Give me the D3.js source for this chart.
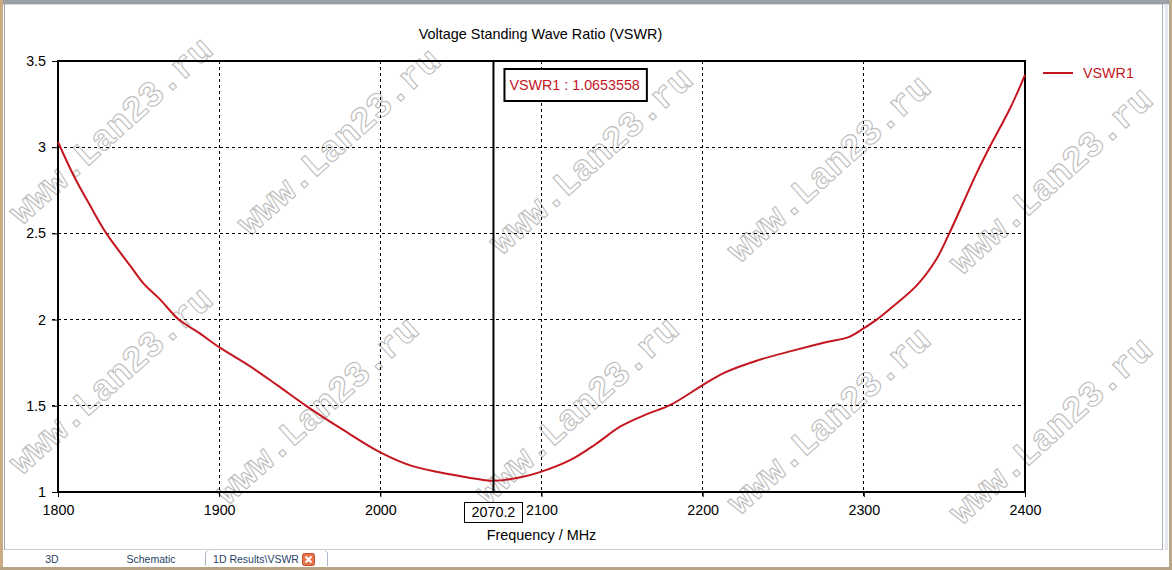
<!DOCTYPE html>
<html>
<head>
<meta charset="utf-8">
<script src="https://cdn.jsdelivr.net/npm/d3@7"></script>
<style>
html,body{margin:0;padding:0;background:#fff;}
svg{display:block;}
</style>
</head>
<body>
<svg id="chart" width="1172" height="570"></svg>
<script>
// ---- data ----
const freq = [1800,1810,1820,1830,1845,1853,1863,1875,1888,1900,1919,1936,1954,1977,2000,2020,2045,2064,2070,2087,2100,2118,2134,2149,2165,2180,2200,2213,2233,2256,2277,2291,2300,2308,2316,2333,2345,2353,2370,2378,2391,2400];
const vswr = [3.03,2.83,2.66,2.50,2.31,2.21,2.12,2.00,1.92,1.84,1.73,1.62,1.50,1.36,1.23,1.15,1.10,1.07,1.065,1.085,1.118,1.186,1.28,1.38,1.45,1.505,1.62,1.69,1.76,1.82,1.87,1.90,1.95,2.00,2.06,2.20,2.35,2.50,2.85,3.00,3.23,3.42];
const xTicks = [1800,1900,2000,2100,2200,2300,2400];
const yTicks = [1,1.5,2,2.5,3,3.5];
const seriesName = "VSWR1";
const markerFreq = 2070.2;
const markerValue = "1.0653558";
const title = "Voltage Standing Wave Ratio (VSWR)";
const xLabel = "Frequency / MHz";
const tabs = ["3D","Schematic","1D Results\\VSWR"];

// ---- layout ----
const svg = d3.select("#chart");
const W = 1172, H = 570;
const plot = {left:58, right:1025, top:61, bottom:492};
const x = d3.scaleLinear().domain([1800,2400]).range([plot.left, plot.right]);
const y = d3.scaleLinear().domain([1,3.5]).range([plot.bottom, plot.top]);
const font = "'Liberation Sans', Arial, sans-serif";
const red = "#c4161f";

// window frame
svg.append("rect").attr("x",0).attr("y",0).attr("width",W).attr("height",H).attr("fill","#fff");
svg.append("rect").attr("x",0).attr("y",0).attr("width",W).attr("height",4).attr("fill","#9ca1a7");
svg.append("rect").attr("x",0).attr("y",4).attr("width",W).attr("height",1).attr("fill","#d6d9dd");
svg.append("rect").attr("x",0).attr("y",0).attr("width",3).attr("height",H).attr("fill","#c9ab83");
svg.append("rect").attr("x",4).attr("y",4).attr("width",1).attr("height",546).attr("fill","#9aa0a6");
svg.append("rect").attr("x",1162).attr("y",4).attr("width",1).attr("height",546).attr("fill","#a8adb3");
svg.append("rect").attr("x",1165).attr("y",4).attr("width",3).attr("height",546).attr("fill","#e4e8ee");
svg.append("rect").attr("x",1169).attr("y",0).attr("width",3).attr("height",H).attr("fill","#b9a78a");

// watermarks (behind chart)
const wm = svg.append("g").attr("class","watermark");
const wmCenters = [[112,132],[340,143],[592,162],[830,170],[1052,182],
                   [112,382],[318,412],[578,412],[830,422],[1052,432]];
wmCenters.forEach(([cx,cy])=>{
  wm.append("text").attr("transform",`translate(${cx},${cy}) rotate(-42)`)
    .attr("text-anchor","middle").attr("dominant-baseline","middle")
    .attr("font-family","'Liberation Mono','DejaVu Sans Mono',monospace")
    .attr("font-weight","bold").attr("font-size",36)
    .attr("fill","none").attr("stroke","#bdbdbd").attr("stroke-width",1.1)
    .text("www.Lan23.ru");
});

// gridlines
const grid = svg.append("g");
grid.selectAll(".gx").data(xTicks.slice(1,-1)).join("line")
  .attr("x1",d=>x(d)).attr("x2",d=>x(d)).attr("y1",plot.top).attr("y2",plot.bottom+5)
  .attr("stroke","#000").attr("stroke-width",1).attr("stroke-dasharray","3,3").attr("shape-rendering","crispEdges");
grid.selectAll(".gy").data(yTicks.slice(1,-1)).join("line")
  .attr("x1",plot.left-6).attr("x2",plot.right).attr("y1",d=>y(d)).attr("y2",d=>y(d))
  .attr("stroke","#000").attr("stroke-width",1).attr("stroke-dasharray","3,3").attr("shape-rendering","crispEdges");

// frame
svg.append("rect").attr("x",plot.left).attr("y",plot.top)
  .attr("width",plot.right-plot.left).attr("height",plot.bottom-plot.top)
  .attr("fill","none").attr("stroke","#000").attr("stroke-width",1.3).attr("shape-rendering","crispEdges");

// axes
const xAxis = d3.axisBottom(x).tickValues(xTicks).tickSize(5).tickPadding(8).tickFormat(d3.format("d"));
const gx = svg.append("g").attr("transform",`translate(0,${plot.bottom})`).call(xAxis);
gx.select(".domain").remove();
gx.selectAll("text").attr("font-family",font).attr("font-size",14.3).attr("fill","#000");
gx.selectAll("line").attr("stroke","#000");

const yAxis = d3.axisLeft(y).tickValues(yTicks).tickSize(6).tickPadding(6).tickFormat(d3.format("~g"));
const gy = svg.append("g").attr("transform",`translate(${plot.left},0)`).call(yAxis);
gy.select(".domain").remove();
gy.selectAll("text").attr("font-family",font).attr("font-size",14.3).attr("fill","#000");
gy.selectAll("line").attr("stroke","#000");

// title & axis label
svg.append("text").attr("x",(plot.left+plot.right)/2 - 1).attr("y",39).attr("text-anchor","middle")
  .attr("font-family",font).attr("font-size",14.4).attr("fill","#000").text(title);
svg.append("text").attr("x",(plot.left+plot.right)/2).attr("y",540).attr("text-anchor","middle")
  .attr("font-family",font).attr("font-size",14.4).attr("fill","#000").text(xLabel);

// curve
const data = freq.map((f,i)=>({f, v:vswr[i]}));
const line = d3.line().x(d=>x(d.f)).y(d=>y(d.v)).curve(d3.curveCatmullRom.alpha(0.5));
svg.append("path").datum(data).attr("d",line).attr("fill","none")
  .attr("stroke",red).attr("stroke-width",2);

// marker line
const mx = x(markerFreq);
svg.append("line").attr("x1",mx).attr("x2",mx).attr("y1",plot.top).attr("y2",plot.bottom)
  .attr("stroke","#000").attr("stroke-width",2);

// marker value box
const mlabel = svg.append("g");
const mt = mlabel.append("text").attr("x",mx+16).attr("y",90)
  .attr("font-family",font).attr("font-size",14.3).attr("fill",red)
  .text(`${seriesName} : ${markerValue}`);
const bb = mt.node().getBBox();
mlabel.insert("rect","text").attr("x",mx+11).attr("y",69).attr("width",bb.width+12).attr("height",32)
  .attr("fill","#fff").attr("stroke","#000").attr("stroke-width",2);

// marker freq box on x axis
const fl = svg.append("g");
const ft = fl.append("text").attr("x",mx).attr("y",517).attr("text-anchor","middle")
  .attr("font-family",font).attr("font-size",14.3).attr("fill","#000").text(markerFreq.toFixed(1));
const fb = ft.node().getBBox();
fl.insert("rect","text").attr("x",mx-29).attr("y",502).attr("width",58).attr("height",20)
  .attr("fill","#fff").attr("stroke","#000").attr("stroke-width",1).attr("shape-rendering","crispEdges");

// legend
svg.append("line").attr("x1",1043).attr("x2",1073).attr("y1",73).attr("y2",73)
  .attr("stroke",red).attr("stroke-width",2);
svg.append("text").attr("x",1083).attr("y",78).attr("font-family",font).attr("font-size",14.3)
  .attr("fill",red).text(seriesName);

// bottom tab bar
svg.append("rect").attr("x",5).attr("y",550).attr("width",1157).attr("height",17).attr("fill","#fff");
svg.append("line").attr("x1",5).attr("x2",1162).attr("y1",549.5).attr("y2",549.5).attr("stroke","#c4ccd6");
svg.append("rect").attr("x",0).attr("y",567).attr("width",W).attr("height",3).attr("fill","#b8a485");
const tabX = [52,151,256];
tabs.forEach((t,i)=>{
  svg.append("text").attr("x",tabX[i]).attr("y",563).attr("text-anchor","middle")
    .attr("font-family",font).attr("font-size",10.5).attr("fill","#2a3f66").text(t);
});
svg.append("path").attr("d","M205.5,566 L205.5,553 L208,550.5 M325,550.5 L327.5,553 L327.5,566")
  .attr("fill","none").attr("stroke","#a9b6c6");
svg.append("rect").attr("x",302.5).attr("y",553.5).attr("width",12).attr("height",12).attr("rx",2)
  .attr("fill","#e8734a").attr("stroke","#c0502c");
svg.append("path").attr("d","M305.5,556.5 L311.5,562.5 M311.5,556.5 L305.5,562.5")
  .attr("stroke","#fff").attr("stroke-width",2);
</script>
</body>
</html>
